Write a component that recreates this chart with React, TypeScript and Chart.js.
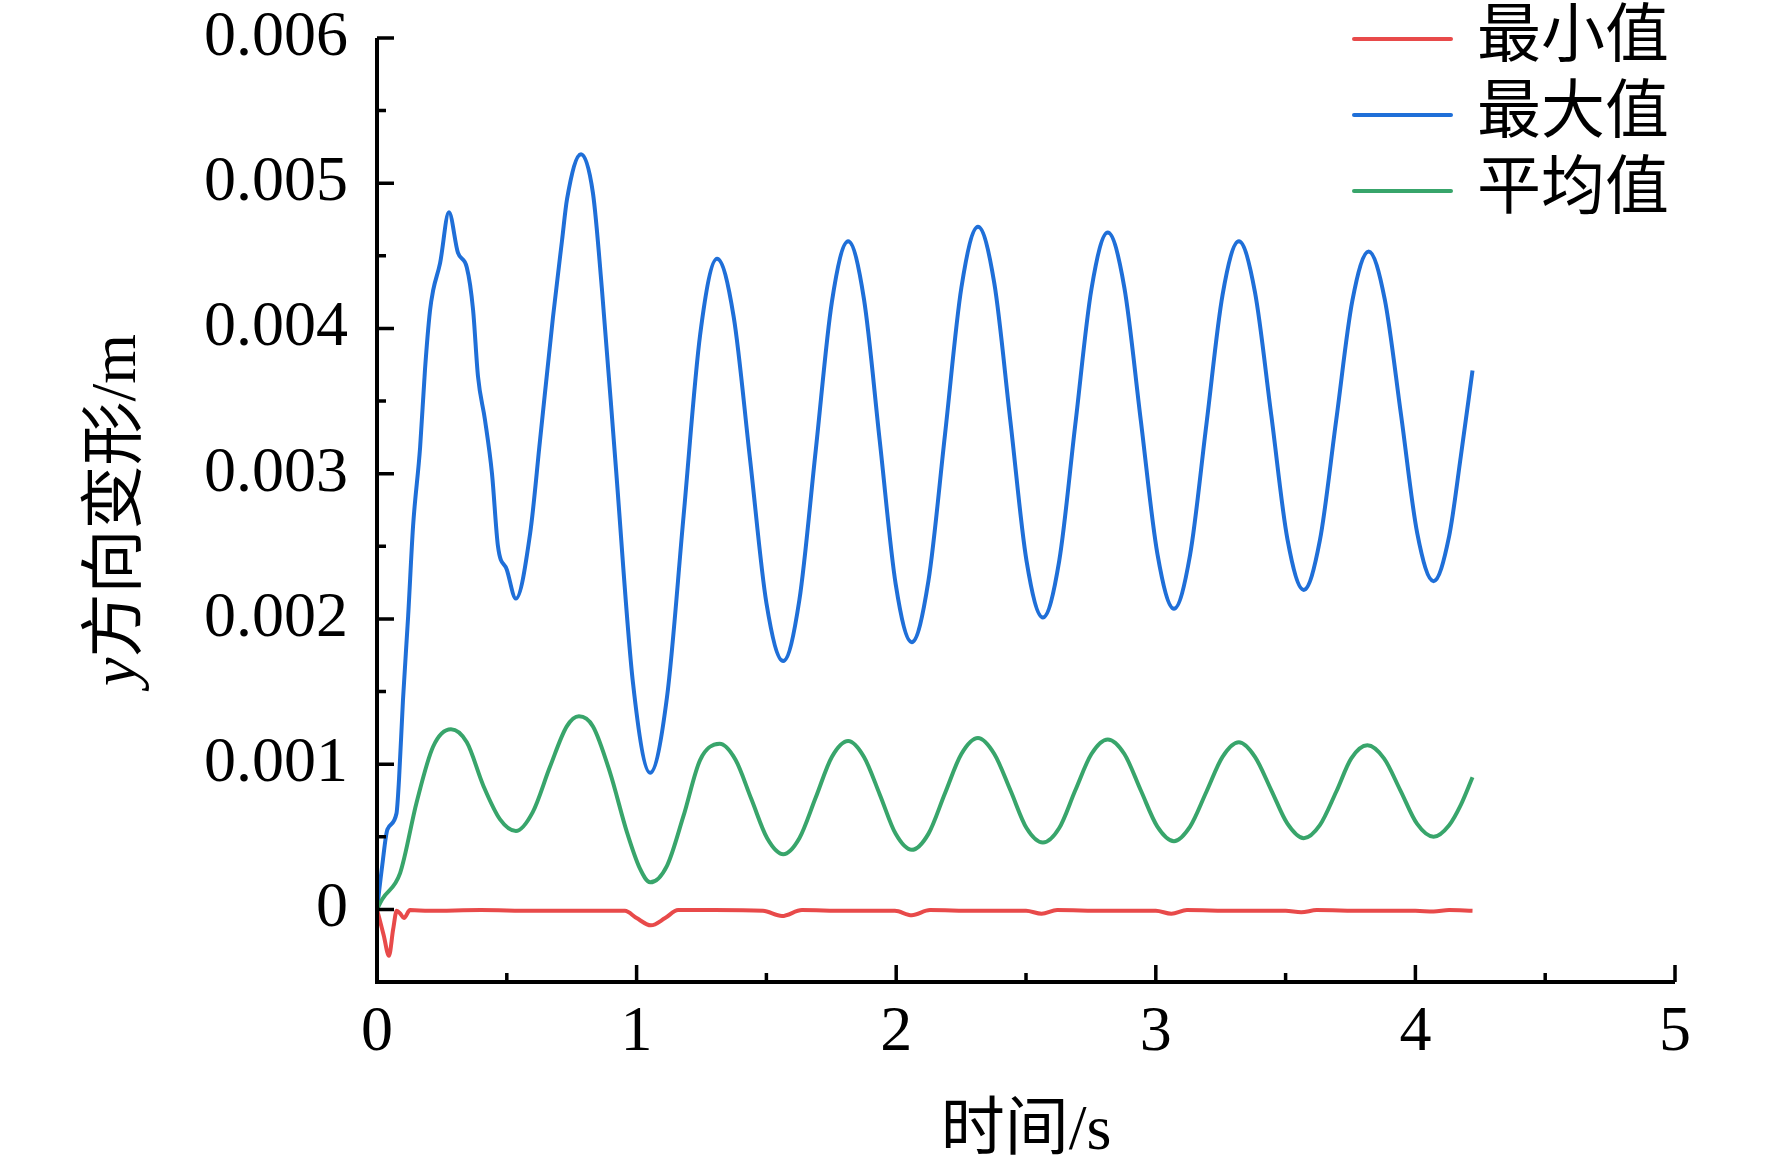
import React, { useEffect, useRef } from "react";
import { Chart, registerables } from "chart.js";

Chart.register(...registerables);

const WIDTH = 1772;
const HEIGHT = 1175;
const FONT = '"Liberation Serif", "Noto Sans CJK SC", serif';

const seriesNames = ["最小值", "最大值", "平均值"];
const seriesColors = ["#e84a4a", "#1f6fd8", "#38a56b"];

// time (s) and y-deformation (m)
const minTime = [
  0, 0.026, 0.046, 0.062, 0.076, 0.09, 0.104, 0.127, 0.2, 0.4, 0.6, 0.8, 0.955, 1.0, 1.055, 1.11, 1.16, 1.3,
  1.487, 1.56, 1.637, 1.8, 1.995, 2.06, 2.13, 2.3, 2.5, 2.56, 2.62, 2.8, 3.0, 3.06, 3.12, 3.3, 3.5, 3.56, 3.62,
  3.8, 4.0, 4.07, 4.13, 4.22,
];
const minValues = [
  0, -0.00018, -0.00032, -0.00014, -0.00001, -0.00003, -0.00006, -0.000005, -0.00001, -0.000005, -0.00001,
  -0.00001, -0.00001, -0.00006, -0.00011, -0.00006, -0.000005, -0.000005, -0.00001, -0.000046, -0.000005,
  -0.00001, -0.00001, -0.00004, -0.000005, -0.00001, -0.00001, -0.00003, -0.000005, -0.00001, -0.00001,
  -0.00003, -0.000005, -0.00001, -0.00001, -0.00002, -0.000005, -0.00001, -0.00001, -0.000015, -0.000005,
  -0.00001,
];

const maxTime = [
  0, 0.02, 0.04, 0.075, 0.085, 0.1, 0.12, 0.139, 0.166, 0.185, 0.204, 0.216, 0.243, 0.277, 0.312, 0.346, 0.37,
  0.389, 0.416, 0.443, 0.466, 0.5, 0.535, 0.59, 0.628, 0.678, 0.713, 0.732, 0.786, 0.832, 0.866, 0.919, 0.986,
  1.052, 1.117, 1.181, 1.245, 1.31, 1.374, 1.437, 1.5, 1.565, 1.627, 1.69, 1.752, 1.815, 1.876, 1.937, 1.998,
  2.06, 2.124, 2.188, 2.251, 2.315, 2.378, 2.44, 2.502, 2.565, 2.628, 2.69, 2.752, 2.815, 2.879, 2.942, 3.006,
  3.07, 3.132, 3.195, 3.257, 3.32, 3.382, 3.445, 3.507, 3.57, 3.632, 3.695, 3.757, 3.82, 3.882, 3.945, 4.007,
  4.07, 4.13, 4.175, 4.22,
];
const maxValues = [
  0, 0.0003, 0.00055, 0.00066, 0.0009, 0.00144, 0.00202, 0.00264, 0.00318, 0.00372, 0.00412, 0.00426, 0.00445,
  0.0048, 0.00452, 0.00442, 0.00413, 0.00367, 0.00337, 0.003, 0.0025, 0.00234, 0.00214, 0.00259, 0.00323,
  0.00408, 0.00461, 0.00489, 0.0052, 0.00493, 0.00428, 0.00307, 0.00156, 0.00094, 0.00146, 0.00271, 0.00396,
  0.00448, 0.00408, 0.0031, 0.00211, 0.00171, 0.00213, 0.00316, 0.00418, 0.0046, 0.0042, 0.00322, 0.00224,
  0.00184, 0.00226, 0.00327, 0.00428, 0.0047, 0.00431, 0.00336, 0.0024, 0.00201, 0.0024, 0.00334, 0.00427,
  0.00466, 0.00428, 0.00337, 0.00245, 0.00207, 0.00244, 0.00334, 0.00423, 0.0046, 0.00425, 0.0034, 0.00255,
  0.0022, 0.00254, 0.00337, 0.00419, 0.00453, 0.0042, 0.0034, 0.00259, 0.00226, 0.00257, 0.00312, 0.00371,
];

const avgTime = [
  0, 0.02, 0.089, 0.153, 0.216, 0.285, 0.346, 0.41, 0.474, 0.535, 0.6, 0.666, 0.731, 0.778, 0.832, 0.898, 0.963,
  1.013, 1.052, 1.117, 1.18, 1.245, 1.32, 1.381, 1.442, 1.503, 1.565, 1.627, 1.69, 1.752, 1.815, 1.876, 1.937,
  1.998, 2.06, 2.124, 2.188, 2.251, 2.315, 2.378, 2.44, 2.502, 2.565, 2.628, 2.69, 2.752, 2.815, 2.879, 2.942,
  3.006, 3.07, 3.132, 3.195, 3.257, 3.32, 3.382, 3.445, 3.507, 3.57, 3.632, 3.695, 3.753, 3.815, 3.879, 3.942,
  4.006, 4.07, 4.13, 4.175, 4.22,
];
const avgValues = [
  0, 0.00007, 0.00025, 0.00074, 0.00112, 0.00124, 0.00115, 0.00085, 0.00062, 0.00054, 0.00067, 0.00098,
  0.00126, 0.00133, 0.00126, 0.00094, 0.00053, 0.00028, 0.000186, 0.0003, 0.00064, 0.00103, 0.00114, 0.00103,
  0.00076, 0.00049, 0.00038, 0.00049, 0.00077, 0.00105, 0.00116, 0.00105, 0.00079, 0.00052, 0.00041, 0.00052,
  0.0008, 0.00107, 0.00118, 0.00107, 0.00082, 0.00056, 0.00046, 0.00056, 0.00082, 0.00107, 0.00117, 0.00107,
  0.00082, 0.00057, 0.00047, 0.00057, 0.00081, 0.00105, 0.00115, 0.00105, 0.00082, 0.00059, 0.00049, 0.00058,
  0.00081, 0.00104, 0.00113, 0.00104, 0.00082, 0.00059, 0.0005, 0.00058, 0.00072, 0.00091,
];

const xTickValues = [0, 1, 2, 3, 4, 5];
const xMinorTicks = [0.5, 1.5, 2.5, 3.5, 4.5];
const yTickValues = [0, 0.001, 0.002, 0.003, 0.004, 0.005, 0.006];
const yMinorTicks = [0.0005, 0.0015, 0.0025, 0.0035, 0.0045, 0.0055];

const xTitle = "时间/s";
const yTitleItalic = "y";
const yTitleRest = "方向变形/m";

const toPoints = (xs: number[], ys: number[]) => xs.map((t, i) => ({ x: t, y: ys[i] }));

// axis lines + inward major/minor ticks
const axesPlugin = {
  id: "axesPlugin",
  afterDatasetsDraw(chart: any) {
    const { ctx, chartArea, scales } = chart;
    const { left, right, top, bottom } = chartArea;
    ctx.save();
    ctx.strokeStyle = "#000";
    ctx.lineWidth = 3.5;
    ctx.beginPath();
    yTickValues.forEach((v) => {
      const py = scales.y.getPixelForValue(v);
      ctx.moveTo(left, py);
      ctx.lineTo(left + 17, py);
    });
    yMinorTicks.forEach((v) => {
      const py = scales.y.getPixelForValue(v);
      ctx.moveTo(left, py);
      ctx.lineTo(left + 9, py);
    });
    xTickValues.forEach((v) => {
      const px = scales.x.getPixelForValue(v);
      ctx.moveTo(px, bottom);
      ctx.lineTo(px, bottom - 17);
    });
    xMinorTicks.forEach((v) => {
      const px = scales.x.getPixelForValue(v);
      ctx.moveTo(px, bottom);
      ctx.lineTo(px, bottom - 9);
    });
    ctx.stroke();
    ctx.lineWidth = 4;
    ctx.lineJoin = "miter";
    ctx.beginPath();
    ctx.moveTo(left, top);
    ctx.lineTo(left, bottom);
    ctx.lineTo(right, bottom);
    ctx.stroke();
    ctx.restore();
  },
};

// rotated y title with italic "y"
const yTitlePlugin = {
  id: "yTitlePlugin",
  afterDraw(chart: any) {
    const { ctx, chartArea } = chart;
    const italicFont = `italic 64px ${FONT}`;
    const plainFont = `64px ${FONT}`;
    ctx.save();
    ctx.translate(118, (chartArea.top + chartArea.bottom) / 2);
    ctx.rotate(-Math.PI / 2);
    ctx.fillStyle = "#000";
    ctx.textBaseline = "middle";
    ctx.textAlign = "left";
    ctx.font = italicFont;
    const w1 = ctx.measureText(yTitleItalic).width;
    ctx.font = plainFont;
    const w2 = ctx.measureText(yTitleRest).width;
    let start = -(w1 + w2) / 2;
    ctx.font = italicFont;
    ctx.fillText(yTitleItalic, start, 0);
    start += w1;
    ctx.font = plainFont;
    ctx.fillText(yTitleRest, start, 0);
    ctx.restore();
  },
};

// legend in the upper right, over the plot
const legendPlugin = {
  id: "legendPlugin",
  afterDraw(chart: any) {
    const { ctx } = chart;
    ctx.save();
    ctx.font = `64px ${FONT}`;
    ctx.textBaseline = "middle";
    ctx.textAlign = "left";
    chart.data.datasets.forEach((ds: any, i: number) => {
      const y = 39 + i * 76;
      ctx.strokeStyle = ds.borderColor;
      ctx.lineWidth = 4;
      ctx.lineCap = "round";
      ctx.beginPath();
      ctx.moveTo(1354, y);
      ctx.lineTo(1451, y);
      ctx.stroke();
      ctx.fillStyle = "#000";
      ctx.fillText(ds.label, 1477, y);
    });
    ctx.restore();
  },
};

const DeformationChart: React.FC = () => {
  const chartRef = useRef<HTMLCanvasElement | null>(null);

  useEffect(() => {
    document.body.style.margin = "0";
    if (!chartRef.current) return;
    const series = [
      toPoints(minTime, minValues),
      toPoints(maxTime, maxValues),
      toPoints(avgTime, avgValues),
    ];
    const drawOrder = [0, 2, 1];
    const chart = new Chart(chartRef.current, {
      type: "line",
      data: {
        datasets: series.map((pts, i) => ({
          label: seriesNames[i],
          data: pts,
          borderColor: seriesColors[i],
          backgroundColor: seriesColors[i],
          borderWidth: 4,
          pointRadius: 0,
          fill: false,
          cubicInterpolationMode: "monotone" as const,
          order: drawOrder[i],
        })),
      },
      options: {
        responsive: false,
        animation: false,
        devicePixelRatio: 1,
        layout: { padding: { top: 38, right: 97, left: 0, bottom: 0 } },
        plugins: {
          legend: { display: false },
          tooltip: { enabled: false },
        },
        scales: {
          x: {
            type: "linear",
            min: 0,
            max: 5,
            afterFit: (s: any) => {
              s.height = 193;
              s.paddingLeft = 0;
              s.paddingRight = 0;
            },
            afterBuildTicks: (s: any) => {
              s.ticks = xTickValues.map((v) => ({ value: v }));
            },
            grid: { display: false, drawTicks: false },
            border: { display: false },
            ticks: {
              padding: 19,
              color: "#000",
              font: { family: FONT, size: 64, lineHeight: 1 },
              maxRotation: 0,
              callback: (v: any) => String(v),
            },
            title: {
              display: true,
              text: xTitle,
              color: "#000",
              font: { family: FONT, size: 64, lineHeight: 1 },
              padding: { top: 0, bottom: 11 },
            },
          },
          y: {
            type: "linear",
            min: -0.0005,
            max: 0.006,
            afterFit: (s: any) => {
              s.width = 377;
              s.paddingTop = 0;
              s.paddingBottom = 0;
            },
            afterBuildTicks: (s: any) => {
              s.ticks = yTickValues.map((v) => ({ value: v }));
            },
            grid: { display: false, drawTicks: false },
            border: { display: false },
            ticks: {
              padding: 29,
              color: "#000",
              font: { family: FONT, size: 64, lineHeight: 1 },
              callback: (v: any) => (v === 0 ? "0" : Number(v).toFixed(3)),
            },
          },
        },
      },
      plugins: [axesPlugin, yTitlePlugin, legendPlugin],
    });
    return () => {
      chart.destroy();
    };
  }, []);

  return (
    <div style={{ width: WIDTH, height: HEIGHT, background: "#fff" }}>
      <canvas ref={chartRef} width={WIDTH} height={HEIGHT} style={{ display: "block" }} />
    </div>
  );
};

export default function App() {
  return <DeformationChart />;
}
